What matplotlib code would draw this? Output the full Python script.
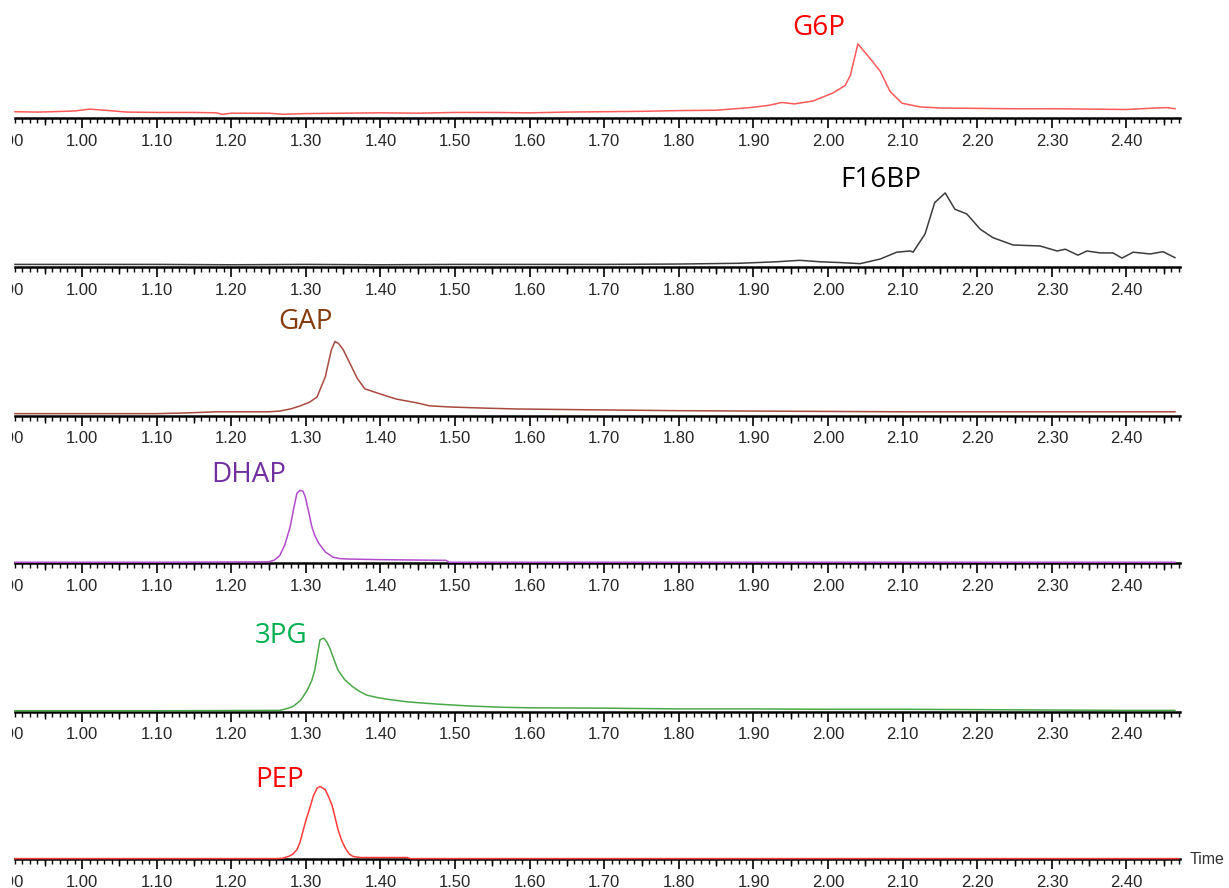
import numpy as np
import matplotlib
matplotlib.use('Agg')
import matplotlib.pyplot as plt
from matplotlib.ticker import FixedLocator
from matplotlib.transforms import Bbox

plt.rcParams['font.family'] = ['Liberation Sans', 'DejaVu Sans']

# retention time (min) and relative intensity (%)
g6p_t = [0.910, 0.940, 0.960, 0.990, 1.010, 1.030, 1.060, 1.100, 1.150, 1.180,
         1.188, 1.200, 1.250, 1.270, 1.300, 1.350, 1.400, 1.450, 1.500, 1.550,
         1.600, 1.650, 1.700, 1.750, 1.800, 1.850, 1.895, 1.920, 1.938, 1.955,
         1.980, 2.007, 2.023, 2.030, 2.040, 2.055, 2.070, 2.083, 2.099, 2.123,
         2.150, 2.200, 2.250, 2.300, 2.350, 2.400, 2.420, 2.440, 2.455, 2.465]
g6p_i = [8.5, 8, 8.5, 9.5, 12, 10.5, 8, 7.5, 7.5, 7,
         5, 6.5, 6.5, 5, 6, 6.5, 7, 6.5, 7.5, 7.5,
         7, 8, 8.5, 9, 10, 10.5, 14, 17, 21, 19,
         23, 34, 44, 58, 100, 82, 63, 36, 20, 15,
         13.5, 13, 12.5, 12.5, 12, 11.5, 12.5, 13.5, 14, 12.5]

f16bp_t = [0.910, 1.000, 1.100, 1.200, 1.300, 1.400, 1.500, 1.600, 1.700, 1.800,
           1.880, 1.930, 1.962, 1.990, 2.016, 2.043, 2.070, 2.092, 2.110, 2.114,
           2.130, 2.143, 2.157, 2.170, 2.186, 2.204, 2.221, 2.248, 2.284, 2.307,
           2.318, 2.335, 2.347, 2.365, 2.382, 2.394, 2.409, 2.432, 2.449, 2.465]
f16bp_i = [3.5, 3.5, 3.5, 3, 3.5, 3, 3.5, 3.5, 3.5, 4,
           5, 7, 9, 7, 6, 4.5, 10.8, 20, 21.6, 20,
           44.6, 87, 100, 78, 71.6, 51, 39.6, 29.7, 28.4, 21.6,
           24, 16, 21.6, 19, 19, 12, 20, 17.6, 20.7, 12.6]

gap_t = [0.910, 1.000, 1.100, 1.140, 1.180, 1.220, 1.250, 1.265, 1.280, 1.292,
         1.305, 1.315, 1.326, 1.334, 1.339, 1.344, 1.350, 1.369, 1.379, 1.403,
         1.422, 1.449, 1.466, 1.493, 1.538, 1.583, 1.627, 1.700, 1.800, 1.900,
         2.000, 2.100, 2.200, 2.300, 2.400, 2.465]
gap_i = [2.5, 2.5, 2.5, 3.5, 5, 5, 5, 6, 9, 12.8,
         18, 25, 52, 88, 100, 97, 89, 50, 36, 28,
         22, 17, 13, 11.5, 10, 8.8, 8.3, 7.5, 6.5, 6,
         5.5, 5, 5, 5, 5, 5]

dhap_t = [0.910, 1.100, 1.250, 1.258, 1.265, 1.272, 1.279, 1.284, 1.288, 1.292,
          1.296, 1.299, 1.304, 1.308, 1.312, 1.317, 1.326, 1.336, 1.345, 1.355,
          1.400, 1.450, 1.488, 1.492, 1.700, 2.000, 2.465]
dhap_i = [1, 1, 1.5, 4, 10, 25, 49, 75, 94, 98,
          97, 90, 68, 49, 37, 27, 15, 8, 6, 5.4,
          4.5, 4, 3.6, 1, 1, 1, 1]

pg3_t = [0.910, 1.100, 1.265, 1.275, 1.283, 1.293, 1.302, 1.308, 1.312, 1.316,
         1.319, 1.324, 1.328, 1.332, 1.337, 1.343, 1.352, 1.362, 1.372, 1.382,
         1.395, 1.409, 1.436, 1.476, 1.520, 1.564, 1.600, 1.700, 1.800, 1.900,
         2.000, 2.100, 2.200, 2.300, 2.400, 2.465]
pg3_i = [1, 1, 1.5, 4, 7, 15, 29, 42, 56, 80,
         97, 99, 94, 86, 72, 56, 43, 34, 27, 22,
         19, 16.6, 13, 10, 7.4, 5.7, 5, 4.5, 3.5, 3.5,
         3, 3, 2.5, 2, 1.5, 1.5]

pep_t = [0.910, 1.100, 1.260, 1.269, 1.278, 1.283, 1.288, 1.292, 1.296, 1.300,
         1.306, 1.310, 1.315, 1.319, 1.326, 1.330, 1.335, 1.339, 1.343, 1.348,
         1.353, 1.358, 1.363, 1.373, 1.436, 1.440, 1.700, 2.000, 2.470]
pep_i = [0.5, 0.5, 0.5, 1, 4, 7, 12.6, 22, 37, 52,
         71, 85, 95.5, 98, 93.6, 85, 73, 57, 40, 25,
         14.5, 7, 3.5, 2, 2, 0.5, 0.5, 0.5, 0.5]

names = ['G6P', 'F16BP', 'GAP', 'DHAP', '3PG', 'PEP']
times = [g6p_t, f16bp_t, gap_t, dhap_t, pg3_t, pep_t]
intensities = [g6p_i, f16bp_i, gap_i, dhap_i, pg3_i, pep_i]

# styling / layout
line_colors = ['#ff5a5a', '#3c3c3c', '#a84a40', '#b24ccc', '#4aa84a', '#ff3b3b']
name_colors = ['#ff0000', '#000000', '#843c0c', '#7030a0', '#00b050', '#ff0000']
name_pos = [(1.987, 121), (2.070, 117), (1.300, 126), (1.223, 119), (1.267, 102), (1.265, 107)]
axis_px = [118, 267, 415.5, 563, 711.5, 859]

W, H = 1229, 888
fig = plt.figure(figsize=(W / 100, H / 100), dpi=100)

x_left = 0.890
x_right = x_left + W / 746.0
majors = np.round(np.arange(0.90, 2.41, 0.10), 2)
mids = np.round(np.arange(0.95, 2.46, 0.10), 2)
minors = np.round(np.arange(0.91, 2.475, 0.01), 2)

# the leftmost label is cut by the window edge in the original screenshot
label_clip = Bbox([[12, 0], [W, H]])

for k in range(len(names)):
    ax = fig.add_axes([0, 1 - axis_px[k] / H, 1, 100 / H])
    ax.set_xlim(x_left, x_right)
    ax.set_ylim(0, 135)
    ax.patch.set_visible(False)
    for s in ['left', 'right', 'top']:
        ax.spines[s].set_visible(False)
    ax.spines['bottom'].set_linewidth(1.8)
    ax.spines['bottom'].set_bounds(0.910, 2.472)
    ax.set_yticks([])

    ax.plot(times[k], intensities[k], color=line_colors[k], lw=1.1,
            zorder=3, clip_on=False)

    ax.set_xticks(majors)
    ax.set_xticklabels(['%.2f' % v for v in majors])
    ax.xaxis.set_minor_locator(FixedLocator(minors))
    ax.tick_params(axis='x', which='major', length=7.5, width=1.2, pad=4,
                   labelsize=12, labelcolor='#262626', direction='out')
    ax.tick_params(axis='x', which='minor', length=3.4, width=1.0, direction='out')
    first = ax.xaxis.get_major_ticks()[0]
    first.tick1line.set_visible(False)
    first.label1.set_clip_on(True)
    first.label1.set_clip_box(label_clip)

    sec = ax.secondary_xaxis('bottom')
    sec.spines['bottom'].set_visible(False)
    sec.set_xticks(mids)
    sec.tick_params(axis='x', which='major', length=5, width=1.0,
                    labelbottom=False, direction='out')
    sec.tick_params(axis='x', which='minor', bottom=False)

    ax.text(name_pos[k][0], name_pos[k][1], names[k], color=name_colors[k],
            fontsize=20, family=['Open Sans', 'DejaVu Sans'],
            ha='center', va='center')

    if k == len(names) - 1:
        ax.text(2.485, 0, 'Time', transform=ax.get_xaxis_transform(),
                ha='left', va='center', fontsize=11.5, color='#333333')

fig.savefig('out.png', dpi=100)
